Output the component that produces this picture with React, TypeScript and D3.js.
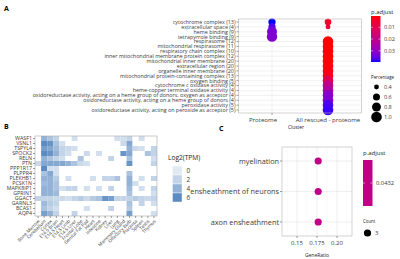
import React from "react";
import * as d3 from "d3";

// ---------- Panel A data ----------
const goTerms = [
  "cytochrome complex (13)",
  "extracellular space (4)",
  "heme binding (9)",
  "tetrapyrrole binding (9)",
  "respirasome (12)",
  "mitochondrial respirasome (11)",
  "respiratory chain complex (10)",
  "inner mitochondrial membrane protein complex (12)",
  "mitochondrial inner membrane (20)",
  "extracellular region (20)",
  "organelle inner membrane (20)",
  "mitochondrial protein-containing complex (13)",
  "oxygen binding (5)",
  "cytochrome c oxidase activity (4)",
  "heme-copper terminal oxidase activity (4)",
  "oxidoreductase activity, acting on a heme group of donors, oxygen as acceptor (4)",
  "oxidoreductase activity, acting on a heme group of donors (4)",
  "peroxidase activity (5)",
  "oxidoreductase activity, acting on peroxide as acceptor (5)",
];
const clusters = ["Proteome", "All rescued - proteome"];
const N = null;
const proteomePadj = [0.0395, 0.037, 0.033, 0.032, N, N, N, N, N, N, N, N, N, N, N, N, N, N, N];
const proteomePct = [0.62, 0.62, 0.92, 0.97, N, N, N, N, N, N, N, N, N, N, N, N, N, N, N];
const rescuedPadj = [0.004, 0.006, N, N, 0.0004, 0.0004, 0.0005, 0.0006, 0.0008, 0.001, 0.0012, 0.0025, 0.01, 0.02, 0.024, 0.031, 0.032, 0.037, 0.038];
const rescuedPct = [0.56, 0.4, N, N, 1, 1, 1, 1, 1, 1, 1, 1, 1, 1, 1, 1, 1, 1, 1];
const padjTicks = [0.01, 0.02, 0.03];
const pctTicks = [0.4, 0.6, 0.8, 1.0];

// ---------- Panel B data ----------
const genes = ["WASF1", "VSNL1", "TSPYL4", "SPOCK2", "RELN", "PTN", "PPP1R17", "PLPPR4", "PLEKHB1", "PCSK1N", "MAPK8IP1", "GPRIN1", "GGACT", "GARNL3", "BCAS1", "AQP4"];
const tissues = ["Bone Marrow", "Cerebellum", "Cortex", "E14.5 Brain", "E14.5 Heart", "E14.5 Limb", "E14.5 Liver", "Frontal Lobe", "Genital Fat Pad", "Heart", "Intestine", "Kidney", "Liver", "Lung", "Mammary Gland", "Olfactory Bulb", "Placenta", "Spleen", "Testis", "Thymus"];
const WASF1 = [0, 4, 3, 2, 0, 0, 1, 0, 0, 0, 0, 0, 0, 1, 1, 2, 0, 1, 0, 0];
const VSNL1 = [0, 6, 5.5, 3, 1, 0, 0, 0, 0, 0, 0, 0, 0, 0, 1.5, 4.5, 0, 0, 0, 0];
const TSPYL4 = [0, 5, 4.5, 3.5, 2, 1.5, 1, 0, 0, 0, 0, 0, 0, 0, 0, 4, 1.5, 1, 0, 2];
const SPOCK2 = [0, 6, 5.5, 4, 2, 1, 0, 0, 1.5, 0, 1, 0, 0, 0, 5.5, 4.5, 0, 0, 3, 2];
const RELN = [0, 4, 3, 2, 1, 0, 0, 3, 0, 0, 0, 0, 2, 0, 0, 3, 0, 0, 0, 1];
const PTN = [1.5, 4.5, 4.5, 4.5, 4.5, 4, 3, 1.5, 1, 0, 0, 0, 0, 0, 0, 5.5, 0, 0, 0, 2];
const PPP1R17 = [0, 6, 1, 1, 0, 0, 0, 0, 0, 0, 0, 0, 0, 0, 0, 0, 0, 0, 0, 0];
const PLPPR4 = [0, 3, 4.5, 1, 0, 0, 0, 0, 0, 0, 0, 0, 0, 0, 0, 3, 0, 0, 0, 0];
const PLEKHB1 = [0, 4, 4, 2.5, 0, 1, 0, 0, 0, 1, 0, 2, 2, 3, 0, 4, 0, 1, 0, 2];
const PCSK1N = [0, 3.5, 4, 3, 0, 0, 0, 0, 0, 0, 0, 0, 0, 0, 0, 4, 1, 0, 0, 0];
const MAPK8IP1 = [0, 4, 4, 3, 1, 2, 2, 0, 1, 0, 1, 0, 2, 0, 0, 3.5, 0, 1, 0, 2];
const GPRIN1 = [0, 4, 4, 3.5, 0, 0, 0, 0, 0, 0, 0, 0, 0, 0, 0, 3, 0, 0, 0, 1];
const GGACT = [2, 2, 2, 1.5, 1.5, 1, 2, 2.5, 1.5, 2.5, 3, 5.5, 5, 2, 2, 2, 2.5, 2, 1.5, 2];
const GARNL3 = [0, 3.5, 2.5, 2, 0, 0, 0, 0, 0, 0, 0, 0, 0, 0, 0, 3, 0, 2, 0, 1];
const BCAS1 = [0, 3, 2, 1, 0, 0, 0, 0, 1, 0, 0, 0, 2, 0, 0, 2.5, 0, 0, 0, 0];
const AQP4 = [0, 5, 4, 2, 0, 0, 2, 0, 0, 0, 0, 0, 0, 0, 0, 5, 0, 0, 0, 1];
const tpmRows = [WASF1, VSNL1, TSPYL4, SPOCK2, RELN, PTN, PPP1R17, PLPPR4, PLEKHB1, PCSK1N, MAPK8IP1, GPRIN1, GGACT, GARNL3, BCAS1, AQP4];
const tpmTicks = [0, 2, 4, 6];

// ---------- Panel C data ----------
const cTerms = ["myelination", "ensheathment of neurons", "axon ensheathment"];
const cGeneRatio = [0.1765, 0.1765, 0.1765];
const cPadj = [0.0432, 0.0432, 0.0432];
const cCount = [3, 3, 3];
const cTicks = [0.15, 0.175, 0.2];
const cTickLabels = ["0.15", "0.175", "0.20"];

const FONT = "'Open Sans', Lato, sans-serif";
const AX = "#3a3a3a";

export default function App() {
  // ---------- Panel A ----------
  const aLeft = 238.5, aRight = 361.5, aTop = 19, aBottom = 113;
  const ay = d3.scalePoint<string>().domain(goTerms).range([22, 110]);
  const ax = d3.scalePoint<string>().domain(clusters).range([272, 328]);
  const allP = [...proteomePadj, ...rescuedPadj].filter((v) => v != null) as number[];
  const pMin = d3.min(allP)!, pMax = d3.max(allP)!;
  const colA = d3.scaleLinear<string>().domain([pMin, pMax]).range(["red", "blue"]).interpolate(d3.interpolateLab);
  const rA = d3.scaleSqrt().domain([0.4, 1]).range([2.4, 5.3]);
  const barY = d3.scaleLinear().domain([pMin, pMax]).range([16, 62]);
  const pts: { x: number; y: number; r: number; c: string }[] = [];
  clusters.forEach((cl, ci) => {
    const ps = ci === 0 ? proteomePadj : rescuedPadj;
    const pc = ci === 0 ? proteomePct : rescuedPct;
    goTerms.forEach((t, i) => {
      if (ps[i] != null && pc[i] != null) {
        pts.push({ x: ax(cl)!, y: ay(t)!, r: rA(pc[i] as number), c: colA(ps[i] as number) });
      }
    });
  });
  const gradStops = d3.range(0, 1.0001, 0.05).map((t) => ({ off: t, c: colA(pMin + t * (pMax - pMin)) }));

  // ---------- Panel B ----------
  const hx = d3.scaleBand<string>().domain(tissues).range([35, 157]);
  const hy = d3.scaleBand<string>().domain(genes).range([136, 216]);
  const tpmColor = d3.scaleLinear<string>().domain([0, 2, 4, 6, 7]).range(["#e1e9f3", "#c3d4e8", "#93b2d5", "#5b8bc1", "#3f74ae"]);
  const cellColor = (v: number) => (v < 0.3 ? "#ffffff" : tpmColor(v));

  // ---------- Panel C ----------
  const cLeft = 282, cRight = 352, cTop = 147, cBottom = 236;
  const cx = d3.scaleLinear().domain([0.13125, 0.21875]).range([cLeft, cRight]);
  const cy = d3.scalePoint<string>().domain(cTerms).range([cTop, cBottom]).padding(0.46);
  const colC = d3.interpolateLab("red", "blue")(0.5);
  const rC = d3.scaleSqrt().domain([0, 3]).range([0, 3.6]);
  const minorC = [0.1375, 0.1625, 0.1875, 0.2125];

  return (
    <svg width={400} height={259} style={{ position: "absolute", left: 0, top: 0, background: "#fff" }} fontFamily={FONT}>
      <rect width={400} height={259} fill="#fff" />
      {/* Panel labels */}
      <text x={4} y={11} fontSize={7} fontWeight="bold">A</text>
      <text x={4} y={129} fontSize={7} fontWeight="bold">B</text>
      <text x={219} y={131} fontSize={7} fontWeight="bold">C</text>

      {/* ===== Panel A ===== */}
      <rect x={aLeft} y={aTop} width={aRight - aLeft} height={aBottom - aTop} fill="#fff" />
      {goTerms.map((t) => (
        <line key={"hg" + t} x1={aLeft} x2={aRight} y1={ay(t)} y2={ay(t)} stroke="#e4e4e4" strokeWidth={0.5} />
      ))}
      {clusters.map((c) => (
        <line key={"vg" + c} x1={ax(c)} x2={ax(c)} y1={aTop} y2={aBottom} stroke="#e4e4e4" strokeWidth={0.5} />
      ))}
      {pts.map((p, i) => (
        <circle key={i} cx={p.x} cy={p.y} r={p.r} fill={p.c} />
      ))}
      <rect x={aLeft} y={aTop} width={aRight - aLeft} height={aBottom - aTop} fill="none" stroke="#b5b5b5" strokeWidth={0.6} />
      {goTerms.map((t) => (
        <g key={"al" + t}>
          <line x1={aLeft - 2} x2={aLeft} y1={ay(t)} y2={ay(t)} stroke={AX} strokeWidth={0.5} />
          <text x={aLeft - 3} y={ay(t)} dy="0.35em" fontSize={5.35} textAnchor="end" fill={AX}>{t}</text>
        </g>
      ))}
      {clusters.map((c, i) => (
        <g key={"xl" + c}>
          <line x1={ax(c)} x2={ax(c)} y1={aBottom} y2={aBottom + 2} stroke={AX} strokeWidth={0.5} />
          <text x={ax(c)! - (i === 0 ? 9 : 0)} y={aBottom + 8.5} fontSize={6.1} textAnchor="middle" fill={AX}>{c}</text>
        </g>
      ))}
      <text x={296} y={129} fontSize={4.9} textAnchor="middle" fill="#222">Cluster</text>

      {/* Legend A */}
      <defs>
        <linearGradient id="gradA" x1="0" y1="0" x2="0" y2="1">
          {gradStops.map((s, i) => (
            <stop key={i} offset={s.off} stopColor={s.c} />
          ))}
        </linearGradient>
      </defs>
      <text x={371} y={13.5} fontSize={6} fill="#222">p.adjust</text>
      <rect x={371} y={16} width={9.5} height={46} fill="url(#gradA)" />
      {padjTicks.map((t) => (
        <g key={"pt" + t}>
          <line x1={371} x2={373} y1={barY(t)} y2={barY(t)} stroke="#fff" strokeWidth={0.5} />
          <line x1={378.5} x2={380.5} y1={barY(t)} y2={barY(t)} stroke="#fff" strokeWidth={0.5} />
          <text x={384} y={barY(t)} dy="0.35em" fontSize={5.5} fill={AX}>{t.toFixed(2)}</text>
        </g>
      ))}
      <text x={371} y={79} fontSize={4.4} fill="#222">Percentage</text>
      {pctTicks.map((t, i) => (
        <g key={"sz" + t}>
          <circle cx={376.5} cy={87 + i * 10} r={rA(t)} fill="#000" />
          <text x={384} y={87 + i * 10} dy="0.35em" fontSize={5.5} fill={AX}>{t.toFixed(1)}</text>
        </g>
      ))}

      {/* ===== Panel B ===== */}
      {tpmRows.map((row, gi) =>
        row.map((v, ti) => (
          <rect key={gi + "-" + ti} x={hx(tissues[ti])} y={hy(genes[gi])} width={hx.bandwidth()} height={hy.bandwidth()} fill={cellColor(v)} />
        ))
      )}
      <rect x={35} y={136} width={122} height={80} fill="none" stroke="#a8a8a8" strokeWidth={0.6} />
      {genes.map((g) => (
        <g key={"gl" + g}>
          <line x1={33} x2={35} y1={hy(g)! + hy.bandwidth() / 2} y2={hy(g)! + hy.bandwidth() / 2} stroke={AX} strokeWidth={0.5} />
          <text x={32} y={hy(g)! + hy.bandwidth() / 2} dy="0.35em" fontSize={5.3} textAnchor="end" fill={AX}>{g}</text>
        </g>
      ))}
      {tissues.map((t) => {
        const xc = hx(t)! + hx.bandwidth() / 2;
        return (
          <g key={"tl" + t}>
            <line x1={xc} x2={xc} y1={216} y2={218} stroke={AX} strokeWidth={0.5} />
            <text transform={`translate(${xc + 1},${220.5}) rotate(-45)`} fontSize={4.6} textAnchor="end" dy="0.3em" fill={AX}>{t}</text>
          </g>
        );
      })}
      <text x={168} y={160} fontSize={6.6} fill="#222">Log2(TPM)</text>
      {tpmTicks.map((t, i) => (
        <g key={"tk" + t}>
          <rect x={172.5} y={166 + i * 9} width={9.5} height={9} fill={tpmColor(t)} stroke="#fff" strokeWidth={0.4} />
          <text x={186.5} y={170.5 + i * 9} dy="0.35em" fontSize={6.4} fill={AX}>{t}</text>
        </g>
      ))}

      {/* ===== Panel C ===== */}
      <rect x={cLeft} y={cTop} width={cRight - cLeft} height={cBottom - cTop} fill="#fff" />
      {minorC.map((m) => (
        <line key={"mn" + m} x1={cx(m)} x2={cx(m)} y1={cTop} y2={cBottom} stroke="#f0f0f0" strokeWidth={0.4} />
      ))}
      {cTicks.map((t) => (
        <line key={"mj" + t} x1={cx(t)} x2={cx(t)} y1={cTop} y2={cBottom} stroke="#e4e4e4" strokeWidth={0.6} />
      ))}
      {cTerms.map((t) => (
        <line key={"ch" + t} x1={cLeft} x2={cRight} y1={cy(t)} y2={cy(t)} stroke="#e4e4e4" strokeWidth={0.6} />
      ))}
      {cTerms.map((t, i) => (
        <circle key={"cd" + t} cx={cx(cGeneRatio[i])} cy={cy(t)} r={rC(cCount[i])} fill={colC} />
      ))}
      <rect x={cLeft} y={cTop} width={cRight - cLeft} height={cBottom - cTop} fill="none" stroke="#b5b5b5" strokeWidth={0.6} />
      {cTerms.map((t) => (
        <g key={"cl" + t}>
          <line x1={cLeft - 2} x2={cLeft} y1={cy(t)} y2={cy(t)} stroke={AX} strokeWidth={0.5} />
          <text x={cLeft - 3} y={cy(t)} dy="0.35em" fontSize={7.3} textAnchor="end" fill={AX}>{t}</text>
        </g>
      ))}
      {cTicks.map((t, i) => (
        <g key={"ct" + t}>
          <line x1={cx(t)} x2={cx(t)} y1={cBottom} y2={cBottom + 2} stroke={AX} strokeWidth={0.5} />
          <text x={cx(t)} y={cBottom + 9} fontSize={6} textAnchor="middle" fill={AX}>{cTickLabels[i]}</text>
        </g>
      ))}
      <text x={317} y={257} fontSize={5} textAnchor="middle" fill="#222">GeneRatio</text>
      <text x={363} y={155} fontSize={6} fill="#222">p.adjust</text>
      <rect x={363} y={160} width={9.5} height={46} fill={colC} />
      <line x1={363} x2={365} y1={183} y2={183} stroke="#fff" strokeWidth={0.5} />
      <line x1={370.5} x2={372.5} y1={183} y2={183} stroke="#fff" strokeWidth={0.5} />
      <text x={376} y={183} dy="0.35em" fontSize={5.8} fill={AX}>{cPadj[0]}</text>
      <text x={363} y={223} fontSize={4.4} fill="#222">Count</text>
      <circle cx={367.5} cy={233} r={rC(cCount[0])} fill="#000" />
      <text x={375} y={233} dy="0.35em" fontSize={6} fill={AX}>{cCount[0]}</text>
    </svg>
  );
}
